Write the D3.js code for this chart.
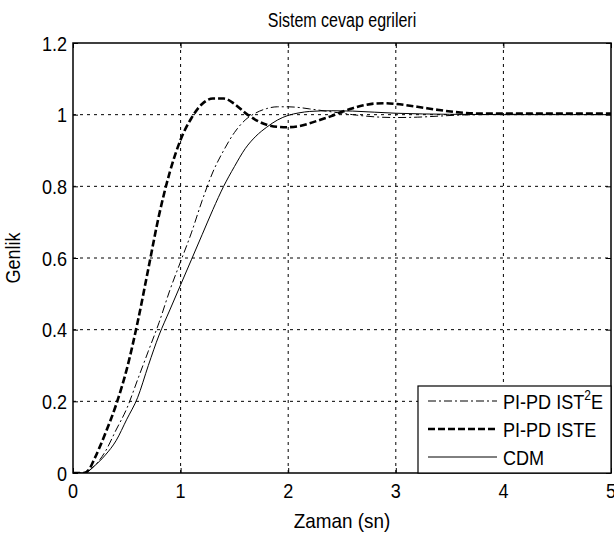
<!DOCTYPE html>
<html><head><meta charset="utf-8">
<script src="https://cdn.jsdelivr.net/npm/d3@7/dist/d3.min.js"></script>
<style>
body{margin:0;background:#fff;}
text{font-family:"Liberation Sans",Arial,sans-serif;fill:#000;}
</style></head>
<body><svg id="c" width="614" height="536"></svg>
<script>
const title = "Sistem cevap egrileri";
const xLabel = "Zaman (sn)";
const yLabel = "Genlik";
const xTicks = [0,1,2,3,4,5];
const yTicks = [0,0.2,0.4,0.6,0.8,1,1.2];

const tIste = [0,0.1,0.15,0.2,0.3,0.4,0.5,0.6,0.7,0.8,0.9,1.0,1.1,1.2,1.3,1.4,1.5,1.6,1.7,1.8,1.9,2.0,2.1,2.2,2.3,2.4,2.5,2.6,2.7,2.8,2.9,3.0,3.2,3.4,3.6,3.8,4.0,4.5,5.0];
const vIste = [0,0.0,0.01,0.04,0.11,0.19,0.29,0.42,0.57,0.72,0.84,0.93,0.99,1.03,1.045,1.045,1.03,1.005,0.985,0.972,0.966,0.965,0.968,0.976,0.986,0.996,1.008,1.018,1.026,1.031,1.032,1.030,1.022,1.013,1.006,1.003,1.003,1.003,1.003];

const tIst2e = [0,0.1,0.2,0.3,0.4,0.5,0.6,0.7,0.8,0.9,1.0,1.1,1.2,1.3,1.4,1.5,1.6,1.7,1.8,1.9,2.0,2.1,2.2,2.4,2.6,2.8,3.0,3.2,3.4,3.6,3.8,4.0,5.0];
const vIst2e = [0,0.0,0.02,0.06,0.12,0.18,0.26,0.34,0.42,0.51,0.59,0.67,0.76,0.84,0.90,0.95,0.985,1.005,1.017,1.022,1.022,1.02,1.016,1.008,1.0,0.994,0.992,0.993,0.996,0.999,1.0,1.001,1.0];

const tCdm = [0,0.1,0.2,0.3,0.4,0.5,0.6,0.7,0.8,0.9,1.0,1.1,1.2,1.3,1.4,1.5,1.6,1.7,1.8,1.9,2.0,2.1,2.2,2.4,2.6,2.8,3.0,3.5,4.0,5.0];
const vCdm = [0,0.0,0.02,0.05,0.09,0.15,0.21,0.30,0.385,0.455,0.525,0.595,0.665,0.735,0.80,0.855,0.905,0.94,0.965,0.985,0.998,1.005,1.009,1.011,1.01,1.007,1.004,1.001,1.0,1.0];

const legendNames = ["PI-PD IST", "PI-PD ISTE", "CDM"];

const FS = 21, SX = 0.86;
const svg = d3.select("#c");
const L=73, R=611, T=43, B=473;
const x = d3.scaleLinear().domain([0,5]).range([L,R]);
const y = d3.scaleLinear().domain([0,1.2]).range([B,T]);

// narrow text helper: place at (px,py), compress horizontally
function ntext(parent, px, py, s, size, anchor, sx, rot){
  const t = parent.append("text")
    .attr("transform",`translate(${px},${py})${rot?` rotate(${rot})`:""} scale(${sx||SX},1)`)
    .attr("text-anchor",anchor||"middle").attr("font-size",size||FS).text(s);
  return t;
}

// grid
const g = svg.append("g");
xTicks.slice(1,-1).forEach(t=>{
  g.append("line").attr("x1",x(t)).attr("x2",x(t)).attr("y1",T).attr("y2",B)
   .attr("stroke","#000").attr("stroke-dasharray","3,4").attr("stroke-width",1);
});
yTicks.slice(1,-1).forEach(t=>{
  g.append("line").attr("x1",L).attr("x2",R).attr("y1",y(t)).attr("y2",y(t))
   .attr("stroke","#000").attr("stroke-dasharray","3,4").attr("stroke-width",1);
});

// axes (tick marks via d3 axis, labels placed narrow)
const xa = svg.append("g").attr("transform",`translate(0,${B})`)
  .call(d3.axisBottom(x).tickValues(xTicks).tickSize(-5).tickFormat(""));
const ya = svg.append("g").attr("transform",`translate(${L},0)`)
  .call(d3.axisLeft(y).tickValues(yTicks).tickSize(-5).tickFormat(""));
[xa,ya].forEach(a=>{ a.select(".domain").remove(); a.selectAll("line").attr("stroke","#000"); });
svg.append("g").attr("transform",`translate(0,${T})`)
  .call(d3.axisTop(x).tickValues(xTicks).tickSize(-5).tickFormat(""))
  .call(a=>a.select(".domain").remove());
svg.append("g").attr("transform",`translate(${R},0)`)
  .call(d3.axisRight(y).tickValues(yTicks).tickSize(-5).tickFormat(""))
  .call(a=>a.select(".domain").remove());

const labs = svg.append("g");
const yfmt = d=>d===0?"0":(d===1?"1":d3.format(".1f")(d));
xTicks.forEach(t=>{ ntext(labs, x(t), B+25, d3.format("d")(t), FS, "middle").attr("dy","0.0em"); });
yTicks.forEach(t=>{ ntext(labs, L-6, y(t), yfmt(t), FS, "end").attr("dy","0.36em"); });

svg.append("rect").attr("x",L).attr("y",T).attr("width",R-L).attr("height",B-T)
  .attr("fill","none").attr("stroke","#000").attr("stroke-width",1.5);

// curves
const line = d3.line().x(d=>x(d[0])).y(d=>y(d[1])).curve(d3.curveMonotoneX);
svg.append("clipPath").attr("id","cp").append("rect").attr("x",L).attr("y",T-2).attr("width",R-L).attr("height",B-T+2);
const cg = svg.append("g").attr("clip-path","url(#cp)");
cg.append("path").datum(d3.zip(tCdm,vCdm)).attr("d",line).attr("fill","none").attr("stroke","#000").attr("stroke-width",1);
cg.append("path").datum(d3.zip(tIst2e,vIst2e)).attr("d",line).attr("fill","none").attr("stroke","#000").attr("stroke-width",1).attr("stroke-dasharray","8,3,2,3");
cg.append("path").datum(d3.zip(tIste,vIste)).attr("d",line).attr("fill","none").attr("stroke","#000").attr("stroke-width",2.6).attr("stroke-dasharray","7,3");

// legend
const lx0=418, ly0=386;
svg.append("rect").attr("x",lx0).attr("y",ly0).attr("width",R-lx0).attr("height",B-ly0)
  .attr("fill","#fff").attr("stroke","#000").attr("stroke-width",1.2);
const styles=[{w:1,d:"8,3,2,3"},{w:2.6,d:"7,3"},{w:1,d:null}];
legendNames.forEach((n,i)=>{
  const yy = ly0+15+i*28;
  const ln = svg.append("line").attr("x1",428).attr("x2",497).attr("y1",yy).attr("y2",yy)
    .attr("stroke","#000").attr("stroke-width",styles[i].w);
  if(styles[i].d) ln.attr("stroke-dasharray",styles[i].d);
  const tx = ntext(svg, 503, yy, "", FS, "start").attr("dy","0.36em");
  if(i===0){
    tx.text(n);
    tx.append("tspan").attr("font-size",14).attr("dy","-0.6em").text("2");
    tx.append("tspan").attr("font-size",FS).attr("dy","0.4em").text("E");
  } else tx.text(n);
});

// titles
ntext(svg, (L+R)/2, 27, title, 20, "middle", 0.8);
ntext(svg, (L+R)/2, 528, xLabel, FS, "middle", 0.9);
ntext(svg, 20, (T+B)/2, yLabel, FS, "middle", 0.86, -90);
</script></body></html>
